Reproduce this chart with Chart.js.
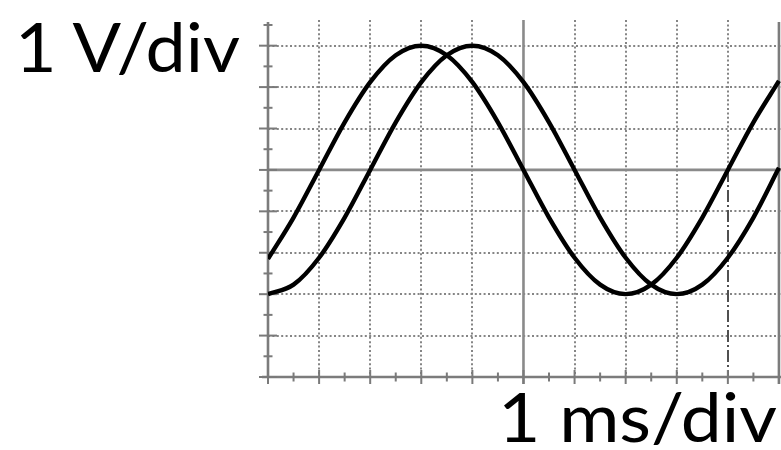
<!DOCTYPE html>
<html>
<head>
<meta charset="utf-8">
<script src="https://cdn.jsdelivr.net/npm/chart.js@4.4.1/dist/chart.umd.min.js"></script>
<style>
  html, body { margin: 0; padding: 0; background: #fff; }
  #wrap { position: relative; width: 781px; height: 450px; overflow: hidden; }
  #wrap canvas { position: absolute; left: 0; top: 0; }
  #labels { position: absolute; left: 0; top: 0; pointer-events: none; }
  #labels text { font-family: Lato, "Open Sans", sans-serif; font-size: 68px; fill: #000; }
</style>
</head>
<body>
<div id="wrap">
  <canvas id="c" width="781" height="450"></canvas>
  <svg id="labels" width="781" height="450" xmlns="http://www.w3.org/2000/svg">
    <text id="yLab" x="15" y="72" textLength="225" lengthAdjust="spacingAndGlyphs"></text>
    <text id="xLab" x="498" y="442" textLength="279" lengthAdjust="spacingAndGlyphs"></text>
  </svg>
</div>
<script>
// ---- data ----
const timeMs   = [0, 0.5, 1, 1.5, 2, 2.5, 3, 3.5, 4, 4.5, 5, 5.5, 6, 6.5, 7, 7.5, 8, 8.5, 9, 9.5, 10];
const ch1Volts = [-2.15, -1.15, 0, 1.15, 2.12, 2.77, 3, 2.77, 2.12, 1.15, 0, -1.15, -2.12, -2.77, -3, -2.77, -2.12, -1.15, 0, 1.15, 2.15];
const ch2Volts = [-3, -2.77, -2.12, -1.15, 0, 1.15, 2.12, 2.77, 3, 2.77, 2.12, 1.15, 0, -1.15, -2.12, -2.77, -3, -2.77, -2.12, -1.15, 0.05];

// grid divisions and axis ticks
const xDivisions = [0, 1, 2, 3, 4, 5, 6, 7, 8, 9, 10];
const yDivisions = [-5, -4, -3, -2, -1, 0, 1, 2, 3];
const xHalfTicks = [0.5, 1.5, 2.5, 3.5, 4.5, 5.5, 6.5, 7.5, 8.5, 9.5];
const yHalfTicks = [-4.5, -3.5, -2.5, -1.5, -0.5, 0.5, 1.5, 2.5, 3.5];
const cursorTime = 9;

// scale labels
const yScaleLabel = "1 V/div";
const xScaleLabel = "1 ms/div";

document.getElementById('yLab').textContent = yScaleLabel;
document.getElementById('xLab').textContent = xScaleLabel;

function seg(ctx, x1, y1, x2, y2) {
  ctx.beginPath(); ctx.moveTo(x1, y1); ctx.lineTo(x2, y2); ctx.stroke();
}

const scopeGrid = {
  id: 'scopeGrid',
  beforeDatasetsDraw(chart) {
    const { ctx, chartArea: a, scales: { x, y } } = chart;
    const xMin = x.min, yMin = y.min;
    const xLeft = x.getPixelForValue(xMin);
    const yBottom = y.getPixelForValue(yMin);
    const yZero = y.getPixelForValue(0);
    const xCenter = x.getPixelForValue(5);
    ctx.save();
    ctx.lineCap = 'butt';
    // dotted grid
    ctx.strokeStyle = '#858585';
    ctx.lineWidth = 2;
    ctx.setLineDash([2, 2.4]);
    xDivisions.forEach(t => {
      if (t === 0 || t === 5 || t === 10) return;
      const px = Math.round(x.getPixelForValue(t));
      const bottom = (t === cursorTime) ? yZero : a.bottom;
      seg(ctx, px, a.top, px, bottom);
    });
    yDivisions.forEach(v => {
      if (v === 0 || v === yMin) return;
      const py = Math.round(y.getPixelForValue(v));
      seg(ctx, xLeft, py, a.right, py);
    });
    // cursor (dash-dot)
    ctx.strokeStyle = '#505050';
    ctx.lineWidth = 2;
    ctx.setLineDash([12, 3, 2, 3]);
    const cx = Math.round(x.getPixelForValue(cursorTime));
    seg(ctx, cx, yZero, cx, a.bottom);
    // solid centre lines
    ctx.setLineDash([]);
    ctx.strokeStyle = '#8a8a8a';
    ctx.lineWidth = 2.6;
    seg(ctx, xLeft, yZero, a.right, yZero);
    seg(ctx, xCenter, a.top, xCenter, yBottom + 7);
    // frame / axes
    ctx.strokeStyle = '#7c7c7c';
    ctx.lineWidth = 2.6;
    seg(ctx, xLeft, a.top + 2, xLeft, yBottom);
    seg(ctx, xLeft - 6, yBottom, a.right, yBottom);
    const xRight = x.getPixelForValue(10);
    seg(ctx, xRight, a.top + 2, xRight, yBottom + 7);
    // ticks
    ctx.lineWidth = 2;
    ctx.strokeStyle = '#7a7a7a';
    yDivisions.forEach(v => {
      const py = y.getPixelForValue(v);
      seg(ctx, xLeft - 9, py, xLeft + 9, py);
    });
    yHalfTicks.forEach(v => {
      const py = y.getPixelForValue(v);
      seg(ctx, xLeft - 4.5, py, xLeft + 4.5, py);
    });
    xDivisions.forEach(t => {
      const px = x.getPixelForValue(t);
      seg(ctx, px, yBottom - 7, px, yBottom + 7);
    });
    xHalfTicks.forEach(t => {
      const px = x.getPixelForValue(t);
      seg(ctx, px, yBottom - 4.5, px, yBottom + 4.5);
    });
    ctx.restore();
  }
};

const toPoints = vals => timeMs.map((t, i) => ({ x: t, y: vals[i] }));

new Chart(document.getElementById('c'), {
  type: 'line',
  data: {
    datasets: [
      { label: 'CH1', data: toPoints(ch1Volts), borderColor: '#000', borderWidth: 4.4,
        pointRadius: 0, fill: false, cubicInterpolationMode: 'monotone' },
      { label: 'CH2', data: toPoints(ch2Volts), borderColor: '#000', borderWidth: 4.4,
        pointRadius: 0, fill: false, cubicInterpolationMode: 'monotone' }
    ]
  },
  options: {
    responsive: false,
    animation: false,
    layout: { padding: { left: 268, right: 0, top: 20, bottom: 73 } },
    plugins: { legend: { display: false }, tooltip: { enabled: false } },
    scales: {
      x: { type: 'linear', min: 0, max: 10.04, display: false },
      y: { type: 'linear', min: -5, max: 3.62, display: false }
    }
  },
  plugins: [scopeGrid]
});
</script>
</body>
</html>
